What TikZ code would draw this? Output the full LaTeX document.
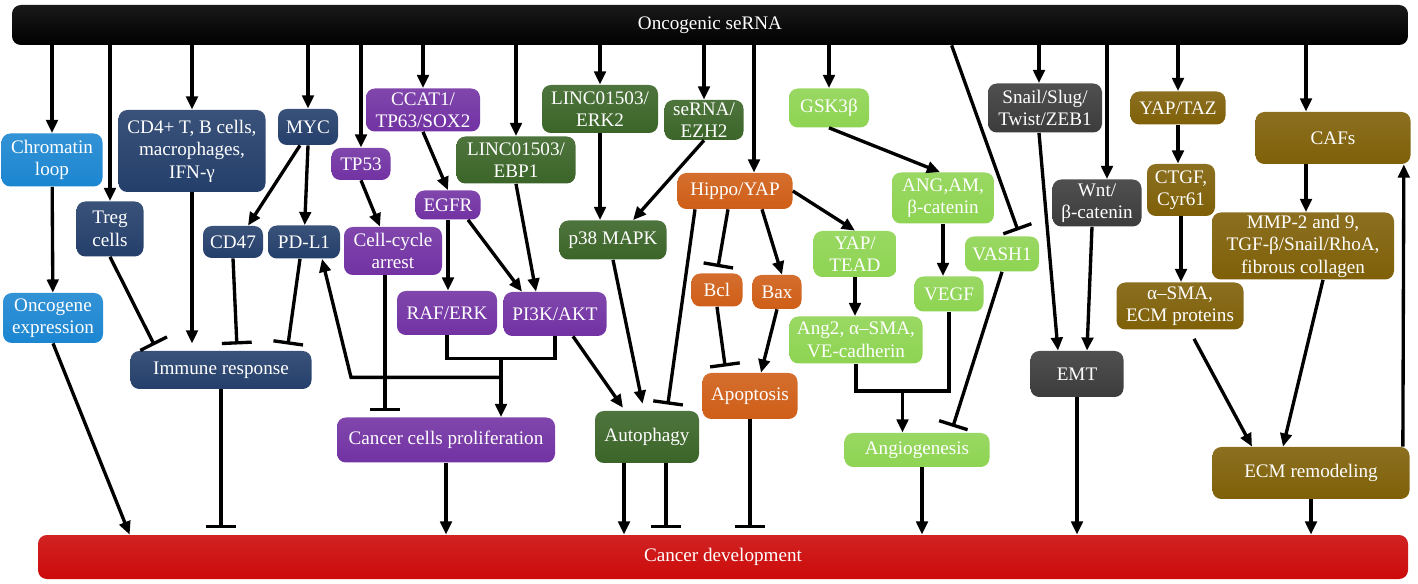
\documentclass[tikz,border=0pt]{standalone}
\usepackage{fontspec}
\setmainfont{Liberation Serif}
\usetikzlibrary{arrows.meta,calc}

\definecolor{cblue}{HTML}{1C86D1}
\definecolor{cnavy}{HTML}{243F6B}
\definecolor{cpurple}{HTML}{7232A3}
\definecolor{cgreen}{HTML}{3B6528}
\definecolor{corange}{HTML}{CF5E17}
\definecolor{clime}{HTML}{8ED452}
\definecolor{cgray}{HTML}{3D3C3C}
\definecolor{colive}{HTML}{7F6008}
\definecolor{cred}{HTML}{CC0A0A}
\newcommand{\boxfont}{\fontsize{10.9}{12.8}\selectfont}

\begin{document}
\begin{tikzpicture}[x=0.02cm, y=-0.02cm,
    box/.style={rounded corners=5pt, text=white, align=center, inner sep=1pt,
        font=\boxfont, top color=#1!90!white, bottom color=#1},
    wh/.style 2 args={minimum width=#1*0.02cm, minimum height=#2*0.02cm},
    lnk/.style={line width=1.9pt},
    arr/.style={lnk, -{Triangle[length=7.5pt, width=6.5pt]}},
    inh/.style={lnk, -{Bar[width=17pt]}, shorten >=3.5pt}]
    \useasboundingbox (0,0) rectangle (1418,584);

    % Top and bottom bars
    \node[box=black, wh={1396}{40}] (Top) at (710,25) {Oncogenic seRNA};
    \node[box=cred, wh={1370}{44}] (Dev) at (723,557) {Cancer development};

    % Chromatin
    \node[box=cblue, wh={101}{53}] (Chrom) at (52,160) {Chromatin\\loop};
    \node[box=cblue, wh={100}{50}] (Onco) at (53,318) {Oncogene\\expression};

    % Immune
    \node[box=cnavy, wh={147}{82}] (CDfour) at (192,151) {CD4+ T, B cells,\\macrophages,\\IFN-γ};
    \node[box=cnavy, wh={67}{55}] (Treg) at (110,229) {Treg\\cells};
    \node[box=cnavy, wh={60}{36}] (Myc) at (308,127) {MYC};
    \node[box=cnavy, wh={60}{32}] (CDfortyseven) at (233,242) {CD47};
    \node[box=cnavy, wh={72}{33}] (PDLone) at (304,242) {PD-L1};
    \node[box=cnavy, wh={181}{38}] (Immune) at (221,370) {Immune response};

    % Proliferation
    \node[box=cpurple, wh={59}{32}] (TPfiftythree) at (361,164) {TP53};
    \node[box=cpurple, wh={114}{43}] (Ccat) at (423,110) {CCAT1/\\TP63/SOX2};
    \node[box=cpurple, wh={65}{29}] (Egfr) at (448,205) {EGFR};
    \node[box=cpurple, wh={98}{48}] (CellCycle) at (393,251) {Cell-cycle\\arrest};
    \node[box=cpurple, wh={100}{44}] (Raf) at (447,313) {RAF/ERK};
    \node[box=cpurple, wh={103}{44}] (Pik) at (555,314) {PI3K/AKT};
    \node[box=cpurple, wh={218}{45}] (Prolif) at (446,440) {Cancer cells proliferation};

    % Autophagy
    \node[box=cgreen, wh={119}{47}] (Ebp) at (516,160) {LINC01503/\\EBP1};
    \node[box=cgreen, wh={116}{48}] (Erk) at (600,109) {LINC01503/\\ERK2};
    \node[box=cgreen, wh={79}{40}] (Ezh) at (704,120) {seRNA/\\EZH2};
    \node[box=cgreen, wh={107}{39}] (Ptf) at (613,240) {p38 MAPK};
    \node[box=cgreen, wh={104}{52}] (Autoph) at (647,437) {Autophagy};

    % Apoptosis
    \node[box=corange, wh={115}{36}] (Hippo) at (735,191) {Hippo/YAP};
    \node[box=corange, wh={51}{33}] (Bcl) at (717,290) {Bcl};
    \node[box=corange, wh={49}{34}] (Bax) at (777,292) {Bax};
    \node[box=corange, wh={95}{46}] (Apopt) at (750,396) {Apoptosis};

    % Angiogenesis
    \node[box=clime, wh={80}{39}] (Gsk) at (829,108) {GSK3β};
    \node[box=clime, wh={102}{51}] (Ang) at (943,198) {ANG,AM,\\β-catenin};
    \node[box=clime, wh={83}{46}] (YapTead) at (855,254) {YAP/\\TEAD};
    \node[box=clime, wh={133}{47}] (AngTwo) at (856,340) {Ang2, α–SMA,\\VE-cadherin};
    \node[box=clime, wh={69}{35}] (Vegf) at (949,294) {VEGF};
    \node[box=clime, wh={74}{35}] (Vash) at (1002,254) {VASH1};
    \node[box=clime, wh={145}{34}] (Angio) at (917,450) {Angiogenesis};

    % EMT
    \node[box=cgray, wh={114}{49}] (Snail) at (1045,108) {Snail/Slug/\\Twist/ZEB1};
    \node[box=cgray, wh={89}{47}] (Wnt) at (1097,203) {Wnt/\\β-catenin};
    \node[box=cgray, wh={93}{46}] (Emt) at (1077,374) {EMT};

    % ECM
    \node[box=colive, wh={95}{33}] (YapTaz) at (1178,108) {YAP/TAZ};
    \node[box=colive, wh={68}{52}] (Ctgf) at (1181,190) {CTGF,\\Cyr61};
    \node[box=colive, wh={127}{47}] (Sma) at (1180,306) {α–SMA,\\ECM proteins};
    \node[box=colive, wh={155}{52}] (Cafs) at (1333,138) {CAFs};
    \node[box=colive, wh={182}{67}] (Mmp) at (1303,246) {MMP-2 and 9,\\TGF-β/Snail/RhoA,\\fibrous collagen};
    \node[box=colive, wh={197}{52}] (Ecm) at (1311,473) {ECM remodeling};

    % Helper coordinates
    \coordinate (HippoIn) at ($(Hippo.north)+(19,0)$);
    \coordinate (SnailIn) at ($(Snail.north)+(-6,0)$);
    \coordinate (WntIn) at ($(Wnt.north)+(10,0)$);
    \coordinate (CafsIn) at ($(Cafs.north)+(-27,0)$);
    \coordinate (CafsOut) at ($(Cafs.south)+(-27,0)$);
    \coordinate (CellCycleOut) at ($(CellCycle.south)+(-8,0)$);
    \coordinate (AngioOut) at ($(Angio.south)+(5,0)$);
    \coordinate (VashFrom) at ($(Top.south west)+(940,0)$);
    \path (Autoph.south) ++(-23,0) coordinate (AutophA) ++(42,0) coordinate (AutophB);

    % From the top bar
    \draw[arr] (Top.south -| Chrom) -- (Chrom);
    \draw[arr] (Top.south -| Treg) -- (Treg);
    \draw[arr] (Top.south -| CDfour) -- (CDfour);
    \draw[arr] (Top.south -| Myc) -- (Myc);
    \draw[arr] (Top.south -| TPfiftythree) -- (TPfiftythree);
    \draw[arr] (Top.south -| Ccat) -- (Ccat);
    \draw[arr] (Top.south -| Ebp) -- (Ebp);
    \draw[arr] (Top.south -| Erk) -- (Erk);
    \draw[arr] (Top.south -| Ezh) -- (Ezh);
    \draw[arr] (Top.south -| HippoIn) -- (HippoIn);
    \draw[arr] (Top.south -| Gsk) -- (Gsk);
    \draw[arr] (Top.south -| SnailIn) -- (SnailIn);
    \draw[arr] (Top.south -| WntIn) -- (WntIn);
    \draw[arr] (Top.south -| YapTaz) -- (YapTaz);
    \draw[arr] (Top.south -| CafsIn) -- (CafsIn);
    \draw[inh] (VashFrom) -- ($(Vash.north)+(18,0)$);

    % Immune branch
    \draw[arr] (Chrom) -- (Onco);
    \draw[arr] (Onco.south) -- ($(Dev.north west)+(92,0)$);
    \draw[arr] (Myc.south) -- (PDLone);
    \draw[arr] ($(Myc.south)+(-8,0)$) -- ($(CDfortyseven.north)+(15,0)$);
    \draw[inh] (Treg.south) -- ($(Immune.north west)+(27,0)$);
    \draw[arr, shorten >=4pt] (CDfour) -- (CDfour |- Immune.north);
    \draw[inh] (CDfortyseven.south) -- ($(Immune.north west)+(107,0)$);
    \draw[inh] ($(PDLone.south)+(-4,0)$) -- ($(Immune.north west)+(157,0)$);
    \draw[inh] (Immune) -- (Immune |- Dev.north);

    % Proliferation branch
    \draw[arr] (TPfiftythree.south) -- ($(CellCycle.north)+(-13,0)$);
    \draw[arr] (Ccat.south) -- (Egfr.north);
    \draw[arr] (Egfr) -- (Egfr |- Raf.north);
    \draw[arr] ($(Egfr.south)+(20,0)$) -- ($(Pik.north)+(-33,0)$);
    \draw[arr] (Ebp.south) -- ($(Pik.north)+(-19,0)$);
    \draw[inh] (CellCycleOut) -- (CellCycleOut |- Prolif.north);
    \coordinate (RafJoin) at ($(Raf.south)+(0,23)$);
    \draw[lnk] (Raf.south) -- (RafJoin) -| (Pik.south);
    \coordinate (ProlifIn) at ($(RafJoin)!0.5!(RafJoin -| Pik.south)$);
    \draw[arr] (ProlifIn) -- (ProlifIn |- Prolif.north);
    \coordinate (PdBend) at ($(ProlifIn)+(-150,19)$);
    \draw[arr] ($(ProlifIn)+(0,19)$) -- (PdBend) -- ($(PDLone.south)+(18,0)$);
    \draw[arr] (Prolif) -- (Prolif |- Dev.north);

    % Autophagy branch
    \draw[arr] (Erk) -- (Erk |- Ptf.north);
    \draw[arr] (Ezh.south) -- ($(Ptf.north)+(20,0)$);
    \draw[arr, shorten >=2pt] ($(Pik.south)+(18,0)$) -- ($(Autoph.north)+(-22,0)$);
    \draw[arr, shorten >=4pt] (Ptf.south) -- ($(Autoph.north)+(-3,0)$);
    \draw[inh] ($(Hippo.south)+(-40,0)$) -- ($(Autoph.north)+(20,0)$);
    \draw[arr] (AutophA) -- (AutophA |- Dev.north);
    \draw[inh] (AutophB) -- (AutophB |- Dev.north);

    % Apoptosis branch
    \draw[inh] ($(Hippo.south)+(-7,0)$) -- (Bcl.north);
    \draw[arr] ($(Hippo.south)+(27,0)$) -- ($(Bax.north)+(5,0)$);
    \draw[inh] (Bcl.south) -- ($(Apopt.north)+(-24,0)$);
    \draw[arr] (Bax.south) -- ($(Apopt.north)+(11,0)$);
    \draw[inh] (Apopt) -- (Apopt |- Dev.north);

    % Angiogenesis branch
    \draw[arr] (Hippo.east) -- (YapTead.north);
    \draw[arr] (Gsk.south) -- ($(Ang.north)+(-3,0)$);
    \draw[arr] (Ang) -- (Ang |- Vegf.north);
    \draw[arr] (YapTead) -- (YapTead |- AngTwo.north);
    \coordinate (AngJoin) at ($(AngTwo.south)+(0,27)$);
    \draw[lnk] (AngTwo.south) -- (AngJoin) -| (Vegf.south);
    \coordinate (AngioIn) at ($(AngJoin)!0.5!(AngJoin -| Vegf.south)$);
    \draw[arr] (AngioIn) -- (AngioIn |- Angio.north);
    \draw[inh] (Vash.south) -- ($(Angio.north)+(34,0)$);
    \draw[arr] (AngioOut) -- (AngioOut |- Dev.north);

    % EMT branch
    \draw[arr] ($(Snail.south)+(-6,0)$) -- ($(Emt.north)+(-19,0)$);
    \draw[arr] ($(Wnt.south)+(-5,0)$) -- ($(Emt.north)+(10,0)$);
    \draw[arr] (Emt) -- (Emt |- Dev.north);

    % ECM branch
    \draw[arr] (YapTaz) -- (YapTaz |- Ctgf.north);
    \draw[arr] (Ctgf) -- (Ctgf |- Sma.north);
    \draw[arr] (CafsOut) -- (CafsOut |- Mmp.north);
    \draw[arr] ($(Sma.south)+(14,9)$) -- ($(Ecm.north)+(-59,0)$);
    \draw[arr] ($(Mmp.south)+(20,0)$) -- ($(Ecm.north)+(-28,0)$);
    \draw[arr] ($(Ecm.north east)+(-7,0)$) -- ($(Cafs.south east)+(-7,0)$);
    \draw[arr] (Ecm) -- (Ecm |- Dev.north);
\end{tikzpicture}
\end{document}
